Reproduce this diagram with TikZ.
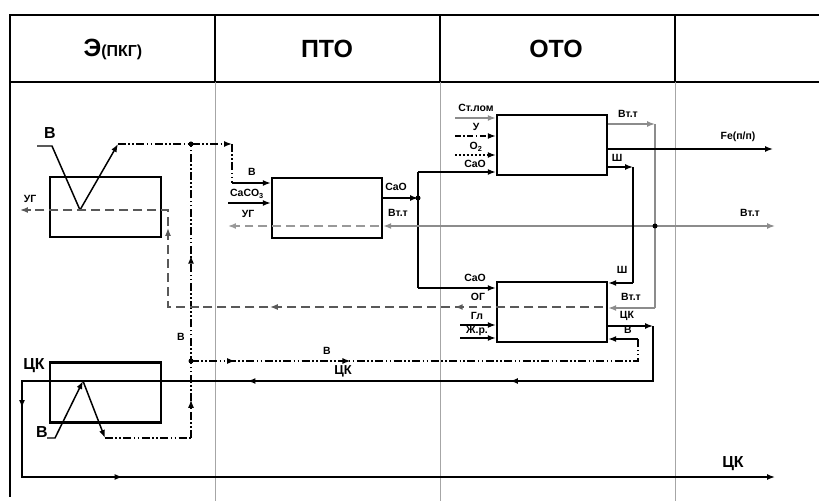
\documentclass[tikz,border=0pt]{standalone}
\usepackage{fontspec}
\setmainfont{Liberation Sans}
\usetikzlibrary{calc,arrows.meta,decorations.markings}

\tikzset{
  unit/.style={draw,line width=2.4pt,inner sep=0pt,minimum width=110bp,minimum height=60bp},
  lbl/.style={font=\bfseries\fontsize{10.5}{11}\selectfont,inner sep=0pt},
  biglbl/.style={font=\bfseries\fontsize{16}{17}\selectfont,inner sep=0pt},
  head/.style={font=\bfseries\fontsize{25}{26}\selectfont,inner sep=0pt},
  flow/.style={line width=1.5pt},
  gas/.style={line width=1.5pt,black!45},
  offgas/.style={line width=1.5pt,black!65,dash pattern=on 9pt off 5pt},
  air/.style={line width=1.4pt,dash pattern=on 8pt off 2.5pt on 1.5pt off 2.5pt on 1.5pt off 2.5pt},
  fuel/.style={line width=1.4pt,dash pattern=on 6pt off 2.5pt on 1.5pt off 2.5pt},
  oxy/.style={line width=1.4pt,dash pattern=on 2pt off 2pt},
  mid/.style={postaction={decorate,decoration={markings,mark=at position #1 with {\arrow{Latex[length=8pt,width=6pt]}}}}},
}

\begin{document}
\begin{tikzpicture}[x=1bp,y=-1bp,>={Latex[length=8pt,width=6pt]}]
  \useasboundingbox (0,0) rectangle (819,501);
  % table
  \draw[line width=3pt] (819,15)--(10,15)--(10,497);
  \draw[line width=1.6pt] (10,82)--(819,82);
  \foreach \c in {215,440,675}{
    \draw[line width=1.4pt] (\c,15)--(\c,82);
    \draw[line width=1pt,black!35] (\c,82)--(\c,501);
  }
  \node[head] (hE) at (113,49) {Э\fontsize{16}{17}\selectfont(ПКГ)};
  \node[head] (hP) at (327,49) {ПТО};
  \node[head] (hO) at (556,49) {ОТО};

  % units
  \node[unit,minimum width=111bp] (E1) at (105.5,207) {};
  \node[unit,minimum width=111bp] (E2) at (105.5,392.5) {};
  \node[unit] (P) at (327,208) {};
  \node[unit] (O1) at (552,145) {};
  \node[unit] (O2) at (552,312) {};

  % air through E1 to P
  \coordinate (a0) at (37,146);
  \coordinate (a1) at (52,146);
  \coordinate (a2) at (80,210);
  \coordinate (a3) at (118,144);
  \coordinate (a4) at (191,144);
  \coordinate (a5) at (232,144);
  \coordinate (a6) at (232,183);
  \draw[flow] (a0)--(a1)--(a2);
  \draw[flow,->] (a2)--(a3);
  \draw[air,->] (a3)--(a5);
  \draw[air] (a5)--(a6);
  \draw[flow,->] (a6)--(P.west|-a6);
  \fill (a4) circle(2.5);
  \node[biglbl] (vA) at (50,133) {В};
  \node[lbl] (vP) at (252,172) {В};

  % air through E2
  \coordinate (b0) at (47,438);
  \coordinate (b1) at (55,438);
  \coordinate (b2) at (83,381);
  \coordinate (b3) at (105,438);
  \coordinate (b4) at (191,438);
  \draw[flow,->] (b0)--(b1)--(b2);
  \draw[flow,->] (b2)--(b3);
  \draw[air] (b3)--(b4);
  \draw[air,mid=0.13,mid=0.62] (b4)--(a4);
  \node[biglbl] (vB) at (42,432) {В};
  \node[lbl] (vV) at (181,337) {В};

  % air to O2
  \coordinate (c0) at (191,361);
  \coordinate (c1) at (638,361);
  \coordinate (c2) at (638,339);
  \draw[air,mid=0.094,mid=0.34] (c0)--(c1)--(c2);
  \draw[flow,->] (c2)--(O2.east|-c2);
  \fill (c0) circle(2.5);
  \node[lbl] (vH) at (327,351) {В};
  \node[lbl] (vO) at (628,330) {В};

  % ЦК loop
  \coordinate (k0) at (653,326);
  \coordinate (k1) at (653,381);
  \coordinate (k2) at (22,381);
  \coordinate (k3) at (22,477);
  \coordinate (k4) at (775,477);
  \draw[flow,->] (O2.east|-k0)--(k0);
  \draw[flow,->,mid=0.129,mid=0.3,mid=0.4645,mid=0.575] (k0)--(k1)--(k2)--(k3)--(k4);
  \node[lbl] (kO) at (627,316) {ЦК};
  \node[lbl,font=\bfseries\fontsize{13}{14}\selectfont] (kM) at (343,371) {ЦК};
  \node[biglbl] (kE) at (34,366) {ЦК};
  \node[biglbl] (kR) at (733,464) {ЦК};

  % off-gas
  \coordinate (g0) at (603,307);
  \coordinate (g1) at (168,307);
  \coordinate (g2) at (168,210);
  \coordinate (g3) at (20,210);
  \draw[offgas,->,mid=0.218,mid=0.49,mid=0.756] (g0)--(g1)--(g2)--(g3);
  \node[lbl] (gO) at (478,297) {ОГ};
  \node[lbl] (gE) at (30,199) {УГ};

  % ПТО
  \coordinate (p1) at (228,203);
  \coordinate (p2) at (379,226);
  \coordinate (p3) at (228,226);
  \coordinate (p4) at (418,198);
  \coordinate (p5) at (418,172);
  \coordinate (p6) at (418,288);
  \draw[flow,->] (p1)--(P.west|-p1);
  \draw[offgas,black!40,->] (p2)--(p3);
  \draw[flow,->] (P.east|-p4)--(p4);
  \draw[flow] (p5)--(p6);
  \draw[flow,->] (p5)--(O1.west|-p5);
  \draw[flow,->] (p6)--(O2.west|-p6);
  \fill (p4) circle(2.5);
  \node[lbl] (pC) at (247,194) {CaCO\textsubscript{3}};
  \node[lbl] (pU) at (248,214) {УГ};
  \node[lbl] (pO) at (396,187) {CaO};
  \node[lbl] (cA) at (475,164) {CaO};
  \node[lbl] (cB) at (475,278) {CaO};

  % Вт.т
  \coordinate (t0) at (775,226);
  \coordinate (t1) at (655,226);
  \coordinate (t2) at (655,124);
  \coordinate (t3) at (655,308);
  \draw[gas,<->] (P.east|-t0)--(t0);
  \draw[gas,->] (O1.east|-t2)--(t2);
  \draw[gas] (t2)--(t3);
  \draw[gas,->] (t3)--(O2.east|-t3);
  \fill (t1) circle(2.5);
  \node[lbl] (tP) at (398,213) {Вт.т};
  \node[lbl] (tR) at (750,213) {Вт.т};
  \node[lbl] (tA) at (628,114) {Вт.т};
  \node[lbl] (tB) at (631,297) {Вт.т};

  % ОТО inputs
  \coordinate (s0) at (455,118);
  \coordinate (u0) at (455,136);
  \coordinate (o0) at (455,155);
  \coordinate (l0) at (460,325);
  \coordinate (j0) at (460,338);
  \draw[gas,->] (s0)--(O1.west|-s0);
  \draw[fuel,->] (u0)--(O1.west|-u0);
  \draw[oxy,->] (o0)--(O1.west|-o0);
  \draw[flow,->] (l0)--(O2.west|-l0);
  \draw[flow,->] (j0)--(O2.west|-j0);
  \node[lbl] (sL) at (476,108) {Ст.лом};
  \node[lbl] (uL) at (476,127) {У};
  \node[lbl] (oL) at (476,147) {O\textsubscript{2}};
  \node[lbl] (lL) at (477,316) {Гл};
  \node[lbl] (jL) at (477,331) {Ж.р.};

  % ОТО outputs
  \coordinate (f0) at (773,149);
  \coordinate (w0) at (633,167);
  \coordinate (w1) at (633,283);
  \draw[flow,->] (O1.east|-f0)--(f0);
  \draw[flow,->] (O1.east|-w0)--(w0);
  \draw[flow] (w0)--(w1);
  \draw[flow,->] (w1)--(O2.east|-w1);
  \node[lbl] (fL) at (738,137) {Fe(п/п)};
  \node[lbl] (wA) at (617,158) {Ш};
  \node[lbl] (wB) at (622,270) {Ш};
\end{tikzpicture}
\end{document}
